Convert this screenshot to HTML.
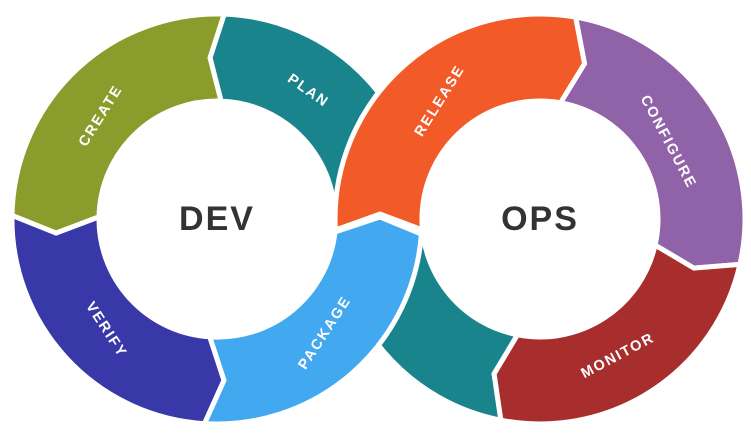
<!DOCTYPE html>
<html><head><meta charset="utf-8"><style>
html,body{margin:0;padding:0;background:#fff;}
svg{display:block;}
text{font-family:"Liberation Sans",sans-serif;font-weight:bold;}
.l{fill:#fff;font-size:14.5px;letter-spacing:1.8px;text-anchor:middle;dominant-baseline:central;}
.c{fill:#333;font-size:34px;letter-spacing:2px;text-anchor:middle;dominant-baseline:central;}
</style></head><body>
<svg width="751" height="438" viewBox="0 0 751 438" xmlns="http://www.w3.org/2000/svg">
<g stroke="#fff" stroke-width="5" stroke-linejoin="miter">
<path fill="#1a848c" d="M 500.9,420.2 A205 205 0 0 1 335.1,226.2 L 422.1,223.1 A118 118 0 0 0 517.5,334.8 L 494.1,373.8 Z"/>
<path fill="#1a848c" d="M 224.2,14.1 A205 205 0 0 1 421.9,226.2 L 334.9,223.1 A118 118 0 0 0 221.1,101.1 L 210,57.7 Z"/>
<path fill="#8a9c2c" d="M 12,215.4 A205 205 0 0 1 224.2,14.1 L 210,57.7 L 221.1,101.1 A118 118 0 0 0 99,216.9 L 56.1,233.1 Z"/>
<path fill="#3838a8" d="M 204.5,423.6 A205 205 0 0 1 12,215.4 L 56.1,233.1 L 99,216.9 A118 118 0 0 0 209.8,336.8 L 224,380.3 Z"/>
<path fill="#9063a8" d="M 575.6,17.1 A205 205 0 0 1 739.9,264.4 L 693.9,268.1 L 655.1,245.1 A118 118 0 0 0 560.5,102.8 L 584.5,63.7 Z"/>
<path fill="#a82e2e" d="M 739.9,264.4 A205 205 0 0 1 500.9,420.2 L 494.1,373.8 L 517.5,334.8 A118 118 0 0 0 655.1,245.1 L 693.9,268.1 Z"/>
<path fill="#f25a27" d="M 335.5,230 L 335.1,224 A205 205 0 0 1 575.6,17.1 L 584.5,63.7 L 560.5,102.8 A118 118 0 0 0 422.1,224.1 L 422.5,230 L 380,214 Z"/>
<path fill="#42a8f0" d="M 209.8,336.8 L 224,380.3 L 204.5,423.6 A205 205 0 0 0 421.4,234 L 380,217 L 335,232 A118 118 0 0 1 209.8,336.8 Z"/>
</g>
<text class="l" transform="translate(101,116) rotate(-58)">CREATE</text>
<text class="l" transform="translate(308,91) rotate(35)">PLAN</text>
<text class="l" transform="translate(106,330) rotate(57)">VERIFY</text>
<text class="l" transform="translate(325,333) rotate(-57)">PACKAGE</text>
<text class="l" transform="translate(440,101) rotate(-58)">RELEASE</text>
<text class="l" transform="translate(668,142) rotate(62)">CONFIGURE</text>
<text class="l" transform="translate(618,356) rotate(-28)">MONITOR</text>
<text class="c" x="217" y="219">DEV</text>
<text class="c" x="540" y="219">OPS</text>
</svg>
</body></html>
